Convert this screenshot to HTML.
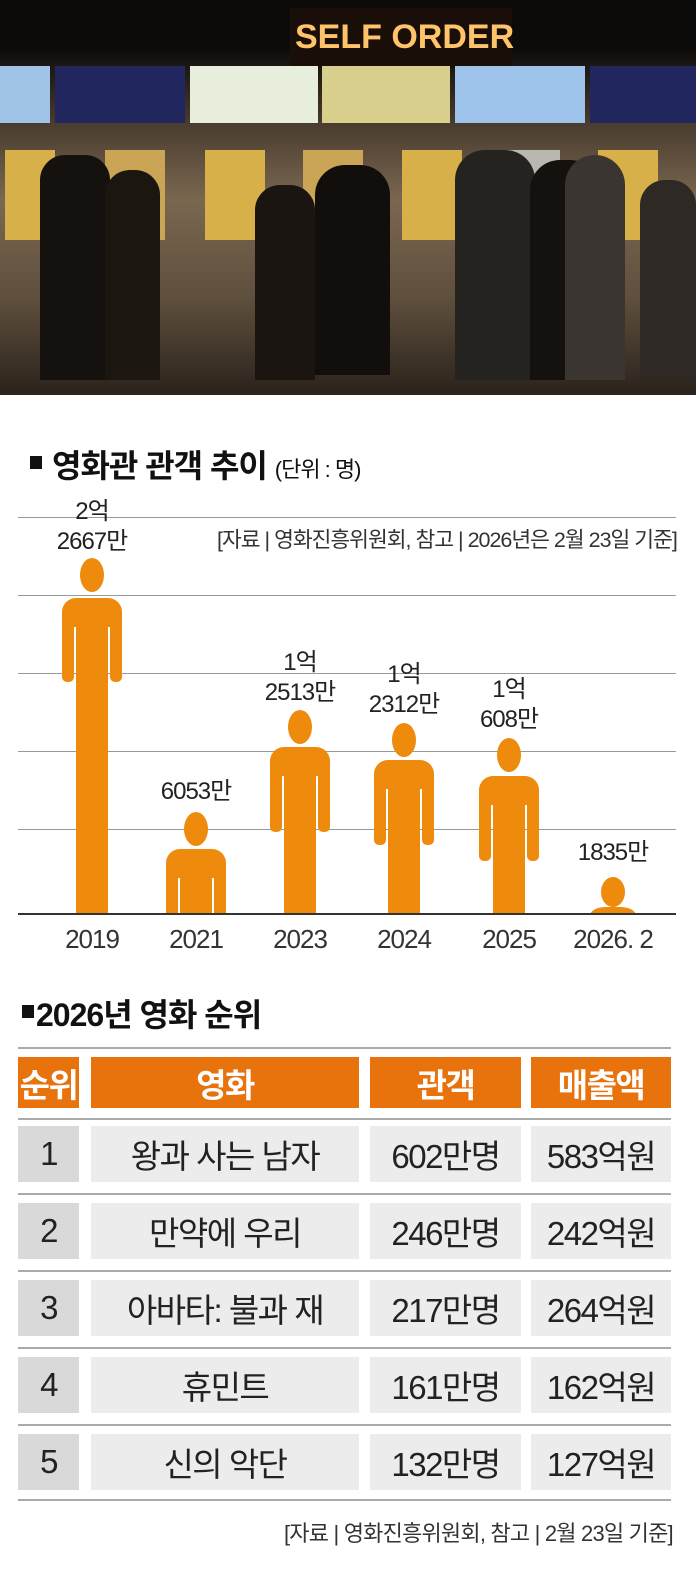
<!DOCTYPE html>
<html><head><meta charset="utf-8"><style>
body{margin:0;width:696px;height:1572px;background:#fff;position:relative;overflow:hidden;font-family:"Liberation Sans","Noto Sans CJK KR",sans-serif;}
.a{position:absolute}
.t{position:absolute;transform:translateX(-50%);white-space:nowrap;text-align:center;color:#222;font-size:24px;line-height:30px;letter-spacing:-1px}
.y{font-size:26px;color:#333}
.g{position:absolute;left:18px;width:658px;height:1px;background:#999}
.c{position:absolute;display:flex;align-items:center;justify-content:center;font-size:33px;color:#222;letter-spacing:-1.5px}
.h{background:#e8730c;color:#fff;font-weight:bold}
.r{background:#ececec}
.k{background:#d9d9d9}
.ln{position:absolute;left:18px;width:653px;height:2px;background:#aaa}
</style></head><body>
<!-- photo -->
<div class="a" style="left:0;top:0;width:696px;height:395px;background:linear-gradient(#0d0b0a 0,#0d0b0a 48px,#4a3d30 125px,#7a6750 200px,#5e4e3c 300px,#2a221b 395px)"></div>
<div class="a" style="left:290px;top:8px;width:222px;height:60px;background:#1a0e08"></div>
<div class="a" style="left:295px;top:18px;font-size:34px;font-weight:bold;color:#ffc46a;letter-spacing:0px">SELF ORDER</div>
<div class="a" style="left:0;top:66px;width:50px;height:57px;background:#9fc4e8"></div>
<div class="a" style="left:55px;top:66px;width:130px;height:57px;background:#22265e"></div>
<div class="a" style="left:190px;top:66px;width:128px;height:57px;background:#e8eedc"></div>
<div class="a" style="left:322px;top:66px;width:128px;height:57px;background:#d9cf8c"></div>
<div class="a" style="left:455px;top:66px;width:130px;height:57px;background:#9ec3ea"></div>
<div class="a" style="left:590px;top:66px;width:106px;height:57px;background:#22265e"></div>
<div class="a" style="left:5px;top:150px;width:50px;height:90px;background:#d8b04a"></div>
<div class="a" style="left:105px;top:150px;width:60px;height:90px;background:#c9a555"></div>
<div class="a" style="left:205px;top:150px;width:60px;height:90px;background:#d8b04a"></div>
<div class="a" style="left:303px;top:150px;width:60px;height:90px;background:#c9a555"></div>
<div class="a" style="left:402px;top:150px;width:60px;height:90px;background:#d8b04a"></div>
<div class="a" style="left:500px;top:150px;width:60px;height:90px;background:#b8b8b0"></div>
<div class="a" style="left:598px;top:150px;width:60px;height:90px;background:#d8b04a"></div>
<div class="a" style="left:40px;top:155px;width:70px;height:225px;background:#15110e;border-radius:25px 25px 0 0"></div>
<div class="a" style="left:105px;top:170px;width:55px;height:210px;background:#1c1611;border-radius:25px 25px 0 0"></div>
<div class="a" style="left:255px;top:185px;width:60px;height:195px;background:#1a1511;border-radius:25px 25px 0 0"></div>
<div class="a" style="left:315px;top:165px;width:75px;height:210px;background:#120e0b;border-radius:30px 30px 0 0"></div>
<div class="a" style="left:455px;top:150px;width:80px;height:230px;background:#242320;border-radius:30px 30px 0 0"></div>
<div class="a" style="left:530px;top:160px;width:70px;height:220px;background:#15110e;border-radius:30px 30px 0 0"></div>
<div class="a" style="left:565px;top:155px;width:60px;height:225px;background:#3a3530;border-radius:30px 30px 0 0"></div>
<div class="a" style="left:640px;top:180px;width:56px;height:200px;background:#2e2925;border-radius:25px 25px 0 0"></div>
<!-- chart -->
<div class="a" style="left:30px;top:456px;width:12px;height:13px;background:#111"></div>
<div class="a" style="left:52px;top:441px;font-size:32px;font-weight:bold;color:#111;letter-spacing:-1px">영화관 관객 추이 <span style="font-size:22px;font-weight:normal">(단위 : 명)</span></div>
<div class="a" style="left:217px;top:523px;font-size:21.5px;color:#333;letter-spacing:-1px">[자료 | 영화진흥위원회, 참고 | 2026년은 2월 23일 기준]</div>
<div class="g" style="top:517px"></div><div class="g" style="top:595px"></div><div class="g" style="top:673px"></div><div class="g" style="top:751px"></div><div class="g" style="top:829px"></div>
<svg class="a" style="left:0;top:0" width="696" height="1000">
<g fill="#ee8a0c">
<ellipse cx="92" cy="575" rx="12" ry="17"/>
<path d="M62 627V612a14 14 0 0 1 14-14h32a14 14 0 0 1 14 14V627z"/>
<rect x="62" y="620" width="12" height="62" rx="5"/><rect x="110" y="620" width="12" height="62" rx="5"/>
<rect x="76" y="600" width="32" height="313"/>
<ellipse cx="196" cy="829" rx="12" ry="17"/>
<path d="M166 878V863a14 14 0 0 1 14-14h32a14 14 0 0 1 14 14V878z"/>
<rect x="166" y="870" width="12" height="43"/><rect x="214" y="870" width="12" height="43"/>
<rect x="180" y="851" width="32" height="62"/>
<ellipse cx="300" cy="727" rx="12" ry="17"/>
<path d="M270 776V761a14 14 0 0 1 14-14h32a14 14 0 0 1 14 14V776z"/>
<rect x="270" y="768" width="12" height="64" rx="5"/><rect x="318" y="768" width="12" height="64" rx="5"/>
<rect x="284" y="749" width="32" height="164"/>
<ellipse cx="404" cy="740" rx="12" ry="17"/>
<path d="M374 789V774a14 14 0 0 1 14-14h32a14 14 0 0 1 14 14V789z"/>
<rect x="374" y="781" width="12" height="64" rx="5"/><rect x="422" y="781" width="12" height="64" rx="5"/>
<rect x="388" y="762" width="32" height="151"/>
<ellipse cx="509" cy="755" rx="12" ry="17"/>
<path d="M479 805V790a14 14 0 0 1 14-14h32a14 14 0 0 1 14 14V805z"/>
<rect x="479" y="797" width="12" height="64" rx="5"/><rect x="527" y="797" width="12" height="64" rx="5"/>
<rect x="493" y="778" width="32" height="135"/>
<ellipse cx="613" cy="892" rx="12" ry="15"/>
<path d="M590 914q4-7 16-7h14q12 0 16 7z"/>
</g>
<line x1="18" y1="914" x2="676" y2="914" stroke="#333" stroke-width="2"/>
</svg>
<div class="t" style="left:92px;top:497px">2억<br>2667만</div>
<div class="t" style="left:196px;top:777px">6053만</div>
<div class="t" style="left:300px;top:648px">1억<br>2513만</div>
<div class="t" style="left:404px;top:660px">1억<br>2312만</div>
<div class="t" style="left:509px;top:675px">1억<br>608만</div>
<div class="t" style="left:613px;top:838px">1835만</div>
<div class="t y" style="left:92px;top:924px">2019</div>
<div class="t y" style="left:196px;top:924px">2021</div>
<div class="t y" style="left:300px;top:924px">2023</div>
<div class="t y" style="left:404px;top:924px">2024</div>
<div class="t y" style="left:509px;top:924px">2025</div>
<div class="t y" style="left:613px;top:924px">2026. 2</div>
<!-- table -->
<div class="a" style="left:22px;top:1005px;width:12px;height:13px;background:#111"></div>
<div class="a" style="left:36px;top:990px;font-size:32px;font-weight:bold;color:#111;letter-spacing:-1px">2026년 영화 순위</div>
<div class="ln" style="top:1047px"></div>
<div class="c h" style="left:18px;top:1057px;width:61px;height:51px">순위</div>
<div class="c h" style="left:91px;top:1057px;width:268px;height:51px">영화</div>
<div class="c h" style="left:370px;top:1057px;width:151px;height:51px">관객</div>
<div class="c h" style="left:531px;top:1057px;width:140px;height:51px">매출액</div>
<div class="ln" style="top:1118px"></div>
<div class="c k" style="left:18px;top:1126px;width:61px;height:56px">1</div><div class="c r" style="left:91px;top:1126px;width:268px;height:56px">왕과 사는 남자</div><div class="c r" style="left:370px;top:1126px;width:151px;height:56px">602만명</div><div class="c r" style="left:531px;top:1126px;width:140px;height:56px">583억원</div>
<div class="ln" style="top:1193px"></div>
<div class="c k" style="left:18px;top:1203px;width:61px;height:56px">2</div><div class="c r" style="left:91px;top:1203px;width:268px;height:56px">만약에 우리</div><div class="c r" style="left:370px;top:1203px;width:151px;height:56px">246만명</div><div class="c r" style="left:531px;top:1203px;width:140px;height:56px">242억원</div>
<div class="ln" style="top:1270px"></div>
<div class="c k" style="left:18px;top:1280px;width:61px;height:56px">3</div><div class="c r" style="left:91px;top:1280px;width:268px;height:56px">아바타: 불과 재</div><div class="c r" style="left:370px;top:1280px;width:151px;height:56px">217만명</div><div class="c r" style="left:531px;top:1280px;width:140px;height:56px">264억원</div>
<div class="ln" style="top:1347px"></div>
<div class="c k" style="left:18px;top:1357px;width:61px;height:56px">4</div><div class="c r" style="left:91px;top:1357px;width:268px;height:56px">휴민트</div><div class="c r" style="left:370px;top:1357px;width:151px;height:56px">161만명</div><div class="c r" style="left:531px;top:1357px;width:140px;height:56px">162억원</div>
<div class="ln" style="top:1424px"></div>
<div class="c k" style="left:18px;top:1434px;width:61px;height:56px">5</div><div class="c r" style="left:91px;top:1434px;width:268px;height:56px">신의 악단</div><div class="c r" style="left:370px;top:1434px;width:151px;height:56px">132만명</div><div class="c r" style="left:531px;top:1434px;width:140px;height:56px">127억원</div>
<div class="ln" style="top:1499px"></div>
<div class="a" style="left:284px;top:1516px;font-size:22px;color:#333;letter-spacing:-0.8px">[자료 | 영화진흥위원회, 참고 | 2월 23일 기준]</div>
</body></html>
